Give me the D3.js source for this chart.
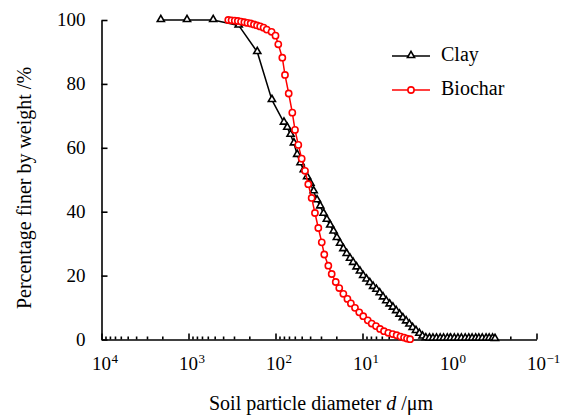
<!DOCTYPE html>
<html>
<head>
<meta charset="utf-8">
<script src="https://cdn.jsdelivr.net/npm/d3@7"></script>
<style>
	body { margin: 0; background: #fff; }
	svg { display: block; }
	svg text { font-family: "Liberation Serif", "Times New Roman", serif; fill: #000; }
</style>
</head>
<body>
<svg id="chart"></svg>
<script>
// particle size data (diameter in um, percent finer)
const clayDiameter = [2080, 1040, 520, 265, 162, 110,
	79.9, 73.2, 67.1, 61.4, 56.3, 51.6, 47.3, 43.3, 39.7, 36.4,
	33.3, 30.6, 28.0, 25.7, 23.5, 21.5, 19.7, 18.1, 16.6, 15.2,
	13.9, 12.8, 11.7, 10.7, 9.82, 8.99, 8.24, 7.55, 6.92, 6.34,
	5.81, 5.33, 4.88, 4.47, 4.10, 3.75, 3.44, 3.15, 2.89, 2.65,
	2.43, 2.22, 2.04, 1.87,
	1.70, 1.55, 1.41, 1.28, 1.17, 1.06, 0.97, 0.88, 0.80, 0.73,
	0.66, 0.60, 0.55, 0.50, 0.46, 0.42, 0.38, 0.35, 0.32, 0.30];
const clayPercent = [100, 100, 100, 98.3, 90, 75,
	67.9, 66.3, 64.1, 61.4, 57.8, 55.2, 53.0, 50.8, 48.8, 46.4,
	43.6, 41.7, 39.4, 37.5, 35.7, 33.8, 31.8, 30.0, 28.3, 26.8,
	25.3, 24.0, 22.6, 21.3, 19.9, 18.8, 17.7, 16.5, 15.6, 14.5,
	13.2, 12.0, 11.0, 10.0, 8.9, 7.8, 6.7, 5.7, 4.7, 3.6,
	2.7, 1.8, 0.95, 0.4,
	0.35, 0.3, 0.3, 0.3, 0.3, 0.3, 0.3, 0.3, 0.3, 0.3,
	0.3, 0.3, 0.3, 0.3, 0.3, 0.3, 0.3, 0.3, 0.3, 0.2];

const biocharDiameter = [349, 320, 294, 271, 249, 228, 210, 193, 177, 163,
	150, 137, 126, 111, 100, 92.9, 83.5, 77.8, 70.5, 64.1,
	59.7, 54.7, 50.0, 45.8, 42.0, 38.4, 35.2, 32.2, 29.4, 27.5,
	24.7, 22.6, 20.3, 18.5, 16.6, 14.9, 13.6, 12.2, 10.9, 9.8,
	8.7, 7.84, 7.0, 6.29, 5.66, 5.05, 4.50, 4.05, 3.66, 3.33,
	3.08, 2.84];
const biocharPercent = [100, 99.9, 99.8, 99.7, 99.5, 99.3, 99.1, 98.9, 98.6, 98.3,
	98.0, 97.6, 97.0, 96.3, 95.1, 92.4, 88.2, 82.8, 77, 71,
	65.6, 60.9, 56.6, 52.8, 48.6, 44.3, 39.6, 34.9, 30.4, 26.6,
	23.1, 20.5, 18.0, 16.1, 14.3, 12.7, 11.3, 9.9, 8.5, 7.3,
	6.0, 5.0, 4.2, 3.3, 2.6, 2.1, 1.7, 1.35, 0.9, 0.6,
	0.3, 0.1];

// axis ticks
const xMajorTicks = [1e4, 1e3, 1e2, 1e1, 1e0, 1e-1];
const xTickExponents = ["4", "3", "2", "1", "0", "\u22121"];
const yTicks = [0, 20, 40, 60, 80, 100];

const seriesNames = ["Clay", "Biochar"];

const serif = "'Liberation Serif', 'Times New Roman', serif";
const w = 567;
const h = 415;
const svg = d3.select("#chart").attr("width", w).attr("height", h)
	.attr("font-family", serif);

const plotLeft = 101.5, plotRight = 536.5, plotTop = 20, plotBottom = 339.5;

// log scale, reversed (coarse on the left)
const xScale = d3.scaleLog().domain([1e4, 1e-1]).range([plotLeft, plotRight]);
const yScale = d3.scaleLinear().domain([0, 100]).range([plotBottom, plotTop]);

// minor ticks 2..9 of every decade
const xMinorTicks = [];
xMajorTicks.slice(1).forEach((d) => {
	for (let k = 2; k <= 9; k++) xMinorTicks.push(d * k);
});

// x axis: major + minor ticks pointing inward
svg.append("g")
	.attr("transform", "translate(0," + plotBottom + ")")
	.call(d3.axisBottom(xScale).tickValues(xMinorTicks).tickSize(-3).tickSizeOuter(0).tickFormat(""))
	.call((g) => g.select(".domain").remove());
svg.append("g")
	.attr("id", "x-axis")
	.attr("transform", "translate(0," + plotBottom + ")")
	.call(d3.axisBottom(xScale).tickValues(xMajorTicks).tickSize(-6).tickSizeOuter(0).tickFormat(""));

// y axis
svg.append("g")
	.attr("id", "y-axis")
	.attr("transform", "translate(" + plotLeft + ",0)")
	.call(d3.axisLeft(yScale).tickValues(yTicks).tickSize(-6).tickSizeOuter(0).tickPadding(16))
	.attr("font-family", serif);

svg.selectAll(".domain, .tick line").attr("stroke", "#000").attr("stroke-width", 1.6);
svg.selectAll("#y-axis text").attr("font-size", 19).attr("font-family", serif).attr("dy", "0.3em");

// x tick labels: "10" centred on the tick, exponent after it
const xLabels = svg.append("g");
xMajorTicks.forEach((d, i) => {
	xLabels.append("text")
		.attr("x", xScale(d))
		.attr("y", 370)
		.attr("text-anchor", "middle")
		.attr("font-size", 19)
		.text("10");
	xLabels.append("text")
		.attr("x", xScale(d) + 10)
		.attr("y", 363)
		.attr("font-size", 13)
		.text(xTickExponents[i]);
});

// axis titles
const xTitle = svg.append("text")
	.attr("x", 321)
	.attr("y", 410)
	.attr("text-anchor", "middle")
	.attr("font-size", 20);
xTitle.append("tspan").text("Soil particle diameter ");
xTitle.append("tspan").attr("font-style", "italic").text("d");
xTitle.append("tspan").text(" /\u03bcm");

svg.append("text")
	.attr("transform", "translate(31,188) rotate(-90)")
	.attr("text-anchor", "middle")
	.attr("font-size", 20)
	.text("Percentage finer by weight /%");

// series
const line = d3.line().x((d) => xScale(d[0])).y((d) => yScale(d[1]));
const clay = clayDiameter.map((d, i) => [d, clayPercent[i]]);
const biochar = biocharDiameter.map((d, i) => [d, biocharPercent[i]]);

const triangle = d3.symbol().type(d3.symbolTriangle).size(22);

svg.append("path").datum(clay)
	.attr("d", line).attr("fill", "none").attr("stroke", "#000").attr("stroke-width", 1.5);
svg.append("g").selectAll("path")
	.data(clay).enter().append("path")
	.attr("d", triangle)
	.attr("transform", (d) => "translate(" + xScale(d[0]) + "," + (yScale(d[1]) - 0.5) + ")")
	.attr("fill", "#fff").attr("stroke", "#000").attr("stroke-width", 1.6);

svg.append("path").datum(biochar)
	.attr("d", line).attr("fill", "none").attr("stroke", "#ff0000").attr("stroke-width", 1.5);
svg.append("g").selectAll("circle")
	.data(biochar).enter().append("circle")
	.attr("cx", (d) => xScale(d[0]))
	.attr("cy", (d) => yScale(d[1]))
	.attr("r", 3.1)
	.attr("fill", "#fff").attr("stroke", "#ff0000").attr("stroke-width", 1.6);

// legend
const legend = svg.append("g");
const legendY = [56, 90];
seriesNames.forEach((name, i) => {
	const color = i === 0 ? "#000" : "#ff0000";
	legend.append("line")
		.attr("x1", 392).attr("x2", 430)
		.attr("y1", legendY[i]).attr("y2", legendY[i])
		.attr("stroke", color).attr("stroke-width", 1.5);
	if (i === 0) {
		legend.append("path").attr("d", triangle)
			.attr("transform", "translate(411," + (legendY[i] - 0.5) + ")")
			.attr("fill", "#fff").attr("stroke", color).attr("stroke-width", 1.6);
	} else {
		legend.append("circle").attr("cx", 411).attr("cy", legendY[i]).attr("r", 3.1)
			.attr("fill", "#fff").attr("stroke", color).attr("stroke-width", 1.6);
	}
	legend.append("text")
		.attr("x", 441).attr("y", legendY[i] + 5)
		.attr("font-size", 20)
		.text(name);
});
</script>
</body>
</html>
